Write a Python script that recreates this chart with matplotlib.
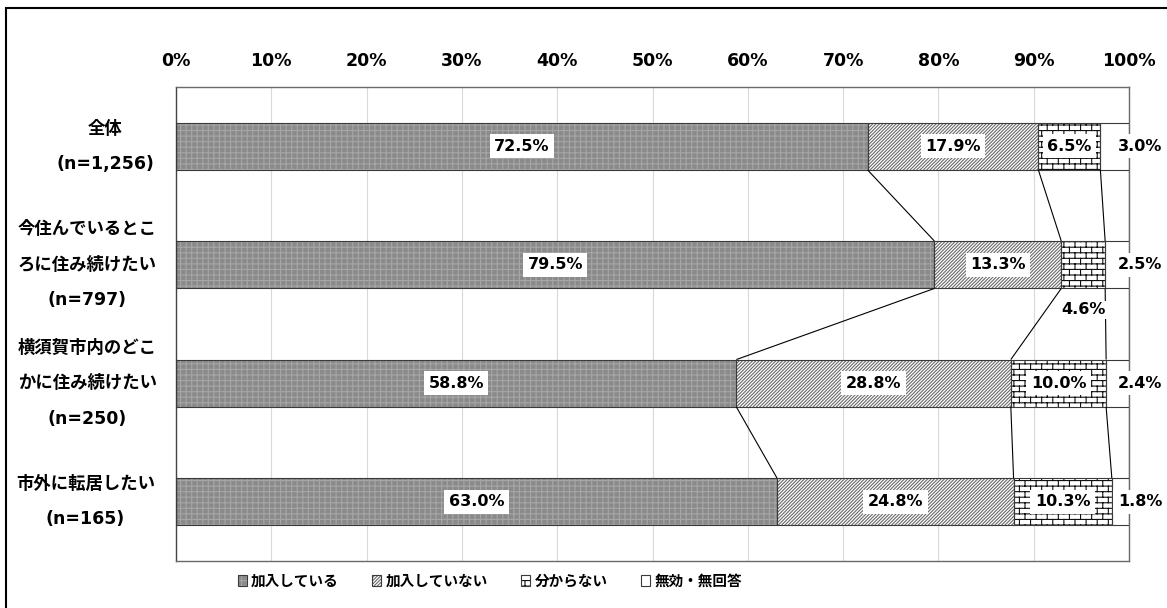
import numpy as np
import matplotlib
matplotlib.use('Agg')
import matplotlib.pyplot as plt
import matplotlib.hatch as mhatch
import matplotlib.patches as mpatches
import matplotlib.transforms as mtransforms
from matplotlib.path import Path
from matplotlib.legend_handler import HandlerTuple

# ---------------- data ----------------
categories = ['全体\n(n=1,256)',
              '今住んでいるとこ\nろに住み続けたい\n(n=797)',
              '横須賀市内のどこ\nかに住み続けたい\n(n=250)',
              '市外に転居したい\n(n=165)']
series_names = ['加入している', '加入していない', '分からない', '無効・無回答']
joined = [72.5, 79.5, 58.8, 63.0]
not_joined = [17.9, 13.3, 28.8, 24.8]
unknown = [6.5, 4.6, 10.0, 10.3]
invalid = [3.0, 2.5, 2.4, 1.8]
x_ticks = [0, 10, 20, 30, 40, 50, 60, 70, 80, 90, 100]
x_tick_labels = ['0%', '10%', '20%', '30%', '40%', '50%', '60%', '70%', '80%', '90%', '100%']

# ---------------- custom brick hatch ----------------
class BrickHatch(mhatch.HatchPatternBase):
    def __init__(self, hatch, density):
        n = hatch.count('b')
        self.rows = 2 * ((n * density) // 2)
        self.cols = self.rows // 2
        if self.rows == 0:
            self.num_vertices = 0
        else:
            self.num_vertices = 2 * (self.rows + self.cols * (self.rows + 1))

    def set_vertices_and_codes(self, vertices, codes):
        R, C = self.rows, self.cols
        h = 1.0 / R
        segs = []
        for r in range(R):
            yy = (r + 0.5) * h
            segs.append(((0.0, yy), (1.0, yy)))
        for r in range(R):
            y0 = (r + 0.5) * h
            y1 = y0 + h
            off = 0.25 if r % 2 == 0 else 0.75
            for c in range(C):
                xx = (c + off) / C
                if r < R - 1:
                    segs.append(((xx, y0), (xx, y1)))
                else:
                    segs.append(((xx, y0), (xx, 1.0)))
                    segs.append(((xx, 0.0), (xx, y1 - 1.0)))
        arr = np.array(segs).reshape(-1, 2)
        vertices[:] = arr
        codes[0::2] = Path.MOVETO
        codes[1::2] = Path.LINETO

mhatch._hatch_types.append(BrickHatch)
_orig_validate = mhatch._validate_hatch_pattern
def _validate(h):
    if h is not None:
        h = h.replace('b', '')
    return _orig_validate(h)
mhatch._validate_hatch_pattern = _validate

# ---------------- style ----------------
plt.rcParams['font.family'] = ['DejaVu Sans', 'Noto Sans CJK JP']
plt.rcParams['hatch.linewidth'] = 0.8

W, H = 1167, 608
fig = plt.figure(figsize=(W / 100, H / 100), dpi=100)
ax = fig.add_axes([176 / W, 1 - 561 / H, (1129 - 176) / W, (561 - 87) / H])

values = np.array([joined, not_joined, unknown, invalid])
totals = values.sum(axis=0)
norm = values / totals * 100
cum_end = np.cumsum(norm, axis=0)
cum_start = cum_end - norm

y = np.arange(len(categories))
bar_h = 0.4

styles = [
    dict(face='#8a8a8a', hatch='+++', hcol='#a6a6a6'),
    dict(face='white', hatch='//////////', hcol='#6a6a6a'),
    dict(face='white', hatch='bbb', hcol='#111111'),
    dict(face='white', hatch=None, hcol='white'),
]
edge_col = '#3a3a3a'

handles = []
for s, st in enumerate(styles):
    ax.barh(y, norm[s], left=cum_start[s], height=bar_h, color=st['face'],
            edgecolor=st['hcol'], linewidth=0, hatch=st['hatch'], zorder=2)
    ax.barh(y, norm[s], left=cum_start[s], height=bar_h, fill=False,
            edgecolor=edge_col, linewidth=0.8, zorder=3)
    p1 = mpatches.Patch(facecolor=st['face'], edgecolor=st['hcol'], hatch=st['hatch'], linewidth=0)
    p2 = mpatches.Patch(fill=False, edgecolor=edge_col, linewidth=0.8)
    handles.append((p1, p2))

# series lines
for k in range(len(styles)):
    for i in range(len(categories) - 1):
        ax.plot([cum_end[k][i], cum_end[k][i + 1]], [i + bar_h / 2, i + 1 - bar_h / 2],
                color='black', lw=0.8, zorder=4, solid_capstyle='butt')

# value labels
box = dict(boxstyle='square,pad=0.28', fc='white', ec='none')
fs_val = 11.5
for s in range(len(styles)):
    for i in range(len(categories)):
        v = values[s][i]
        txt = f'{v:.1f}%'
        if s == len(styles) - 1:
            ax.text(101.15, i, txt, ha='center', va='center', fontsize=fs_val, fontweight='bold',
                    bbox=box, zorder=6, clip_on=False)
        elif norm[s][i] < 5:
            ax.text((cum_start[s][i] + cum_end[s][i]) / 2, i + 0.38, txt, ha='center', va='center',
                    fontsize=fs_val, fontweight='bold',
                    bbox=dict(boxstyle='square,pad=0.1', fc='white', ec='none'), zorder=6)
        else:
            ax.text((cum_start[s][i] + cum_end[s][i]) / 2, i, txt, ha='center', va='center',
                    fontsize=fs_val, fontweight='bold', bbox=box, zorder=6)

# axes
ax.set_xlim(0, 100)
ax.set_ylim(len(categories) - 0.5, -0.5)
ax.set_xticks(x_ticks)
ax.set_xticklabels(x_tick_labels, fontweight='bold', fontsize=12.5)
ax.xaxis.tick_top()
ax.tick_params(axis='x', length=0, pad=12)
ax.set_yticks([])
ax.xaxis.grid(True, color='#d9d9d9', lw=0.8)
ax.set_axisbelow(True)
for sp in ax.spines.values():
    sp.set_color('#6a6a6a')
    sp.set_linewidth(1.0)
ax.spines['left'].set_color('#444444')

# category labels
trans = mtransforms.blended_transform_factory(ax.transAxes, ax.transData)
label_x = [-0.074, -0.093, -0.093, -0.095]
for i, cat in enumerate(categories):
    ax.text(label_x[i], i, cat, transform=trans, ha='center', va='center', multialignment='center',
            fontsize=12.5, fontweight='bold', linespacing=2.25, clip_on=False)

# legend
fig.legend(handles, series_names, handler_map={tuple: HandlerTuple(ndivide=1)},
           loc='center', bbox_to_anchor=(490 / W, 1 - 581 / H), ncol=4, frameon=False,
           prop=dict(weight='bold', size=10.5), handlelength=0.6, handleheight=0.75,
           handletextpad=0.3, columnspacing=2.3)

# chart border
fig.patches.append(mpatches.Rectangle((6 / W, -0.05), 1.2, 1 - 8 / H + 0.05, transform=fig.transFigure,
                                      fill=False, ec='black', lw=1.5))

fig.savefig('out.png', dpi=100)
